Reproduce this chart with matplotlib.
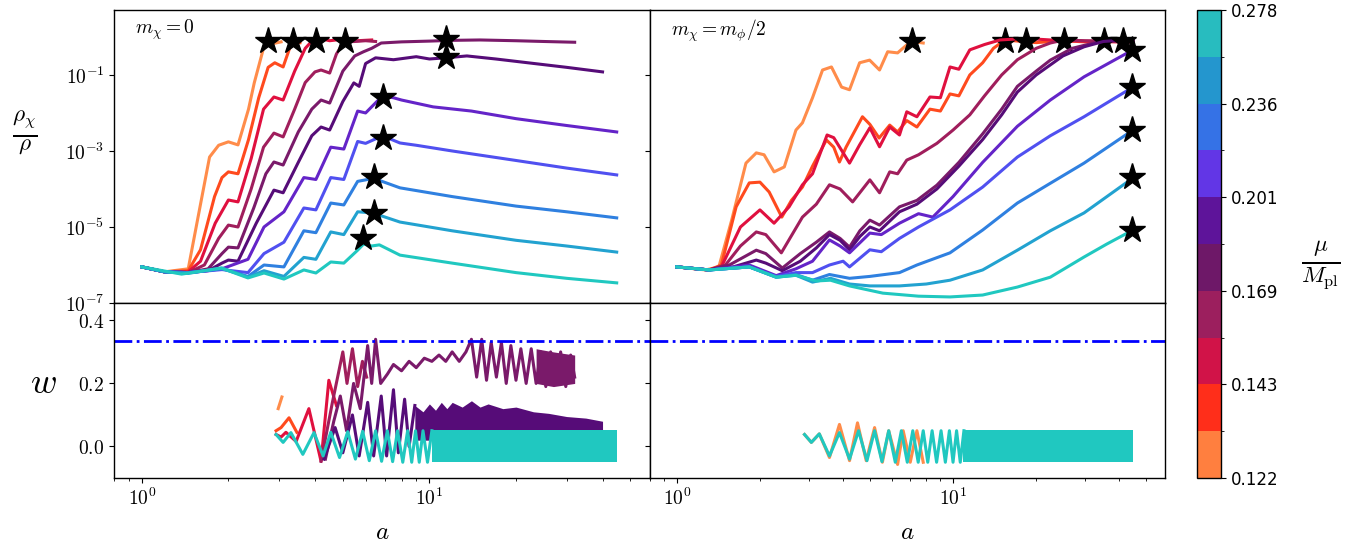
import numpy as np
import matplotlib
matplotlib.use('Agg')
import matplotlib.pyplot as plt
import matplotlib as mpl
from matplotlib.colors import ListedColormap, BoundaryNorm
from matplotlib.ticker import FuncFormatter, NullFormatter, NullLocator, FormatStrFormatter

plt.rcParams['mathtext.fontset'] = 'cm'
plt.rcParams['axes.linewidth'] = 1.0

# eleven runs, orange (small mu) -> teal (large mu)
line_colors = ['#ff8c4a', '#ff4a1e', '#e0103f', '#a01e5c', '#7a1a6a', '#560c78',
               '#6424c8', '#5050f0', '#2f80e0', '#22a2d0', '#20c8c0']
cbar_colors = ['#ff7f3f', '#ff2e1a', '#d11348', '#9c1f5e', '#6e1868',
               '#5e149a', '#6236e6', '#3572e6', '#2496ce', '#28bcbf']
mu_bounds = [0.122, 0.132, 0.143, 0.156, 0.169, 0.184, 0.201, 0.218, 0.236, 0.256, 0.278]
mu_ticks = [0.122, 0.143, 0.169, 0.201, 0.236, 0.278]

# ---- m_chi = 0 : a and log10(rho_chi/rho) ----
left_a = [
    [1.0, 1.2, 1.45, 1.6, 1.72, 1.85, 2.0, 2.16, 2.35, 2.46, 2.64, 2.75, 2.88, 3.05],
    [1.0, 1.2, 1.45, 1.6, 1.79, 1.9, 2.0, 2.16, 2.35, 2.55, 2.75, 2.9, 3.1, 3.3, 3.4, 3.55],
    [1.0, 1.2, 1.45, 1.6, 1.8, 2.0, 2.16, 2.4, 2.65, 2.88, 3.1, 3.4, 3.7, 3.97, 4.1, 4.5, 5.0, 5.6, 6.3],
    [1.0, 1.2, 1.45, 1.65, 1.85, 2.0, 2.16, 2.4, 2.65, 2.88, 3.1, 3.4, 3.7, 4.0, 4.2, 4.5, 4.75, 5.04, 5.5, 6.0, 6.5],
    [1.0, 1.2, 1.45, 1.7, 1.9, 2.0, 2.16, 2.45, 2.7, 2.88, 3.1, 3.5, 3.9, 4.2, 4.5, 5.0, 5.5, 5.9, 6.3, 6.8,
     8.0, 10, 12, 15, 20, 25, 32],
    [1.0, 1.2, 1.45, 1.7, 1.9, 2.0, 2.16, 2.5, 2.88, 3.1, 3.5, 3.9, 4.2, 4.5, 5.0, 5.46, 5.7, 6.0, 6.5, 7.5,
     9, 10, 11.4, 13.5, 17, 22, 30, 40],
    [1.0, 1.2, 1.45, 1.9, 2.34, 2.66, 3.12, 3.66, 4.03, 4.54, 5.04, 5.63, 6.0, 6.87, 7.5, 8.0, 10.3, 14, 20,
     30, 44.8],
    [1.0, 1.2, 1.45, 1.9, 2.34, 2.66, 3.12, 3.66, 4.03, 4.54, 5.04, 5.63, 6.0, 6.87, 7.9, 9, 12, 20, 30, 44.8],
    [1.0, 1.2, 1.45, 1.9, 2.34, 2.66, 3.12, 3.66, 4.03, 4.54, 5.04, 5.63, 6.4, 7.9, 12, 20, 30, 44.8],
    [1.0, 1.2, 1.45, 1.9, 2.34, 2.66, 3.12, 3.66, 4.03, 4.54, 5.04, 5.63, 6.35, 7.9, 12, 20, 30, 44.8],
    [1.0, 1.375, 1.89, 2.34, 2.66, 3.12, 3.66, 4.03, 4.54, 5.04, 5.63, 5.9, 6.3, 6.7, 7.9, 12, 20, 30, 44.8],
]
left_lr = [
    [-6.05, -6.18, -6.1, -4.4, -3.16, -2.85, -2.76, -2.84, -1.9, -1.21, -0.34, -0.13, -0.17, -0.13],
    [-6.05, -6.18, -6.15, -5.6, -4.2, -3.7, -3.55, -3.6, -2.7, -1.6, -0.8, -0.68, -0.79, -0.2, -0.12, -0.15],
    [-6.05, -6.18, -6.18, -5.9, -4.9, -4.29, -4.34, -3.2, -1.9, -1.58, -1.66, -0.9, -0.3, -0.05, -0.03, -0.1,
     -0.06, -0.1, -0.08],
    [-6.05, -6.18, -6.2, -6.0, -5.3, -4.95, -5.0, -4.0, -2.9, -2.53, -2.63, -1.9, -1.2, -0.92, -0.87, -0.95,
     -0.45, -0.13, -0.12, -0.1, -0.12],
    [-6.05, -6.18, -6.2, -6.1, -5.7, -5.53, -5.55, -4.5, -3.6, -3.29, -3.37, -2.5, -1.9, -1.66, -1.74, -0.9,
     -0.5, -0.39, -0.3, -0.16, -0.13, -0.11, -0.09, -0.08, -0.1, -0.12, -0.14],
    [-6.05, -6.18, -6.2, -6.15, -5.95, -5.87, -5.9, -4.9, -4.03, -4.1, -3.3, -2.6, -2.37, -2.45, -1.7, -1.21,
     -1.3, -0.7, -0.55, -0.6, -0.52, -0.58, -0.55, -0.5, -0.58, -0.68, -0.8, -0.92],
    [-6.05, -6.18, -6.2, -6.1, -5.85, -5.0, -4.6, -3.7, -3.75, -2.9, -2.95, -1.95, -2.0, -1.55, -1.6, -1.66,
     -1.84, -1.95, -2.15, -2.33, -2.5],
    [-6.05, -6.18, -6.2, -6.12, -6.2, -5.7, -5.4, -4.5, -4.55, -3.7, -3.75, -2.75, -2.8, -2.6, -2.79, -2.85,
     -3.0, -3.25, -3.45, -3.63],
    [-6.05, -6.18, -6.2, -6.1, -6.3, -6.0, -6.05, -5.1, -5.15, -4.37, -4.42, -3.8, -3.72, -3.97, -4.2, -4.45,
     -4.6, -4.76],
    [-6.05, -6.18, -6.22, -6.08, -6.32, -6.15, -6.3, -5.8, -5.85, -5.13, -5.2, -4.6, -4.63, -4.87, -5.1, -5.35,
     -5.5, -5.66],
    [-6.05, -6.24, -6.08, -6.34, -6.21, -6.37, -6.13, -6.21, -5.92, -5.95, -5.61, -5.45, -5.5, -5.47, -5.74,
     -5.95, -6.2, -6.35, -6.47],
]
left_star_a = [2.75, 3.36, 4.03, 5.1, 11.4, 11.4, 6.87, 6.87, 6.4, 6.4, 5.9]
left_star_rho = [0.8, 0.8, 0.8, 0.8, 0.9, 0.3, 0.026, 2.2e-3, 2.1e-4, 2.3e-5, 5.1e-6]

# ---- m_chi = m_phi/2 ----
right_a = [
    [1.0, 1.27, 1.42, 1.58, 1.78, 1.94, 2.07, 2.25, 2.45, 2.7, 2.85, 3.1, 3.37, 3.63, 3.95, 4.22, 4.59, 4.99,
     5.42, 5.8, 6.3, 6.8, 7.1, 7.8],
    [1.0, 1.31, 1.45, 1.64, 1.83, 2.0, 2.16, 2.4, 2.6, 2.85, 3.1, 3.48, 3.7, 3.88, 4.1, 4.7, 5.0, 5.4, 5.9,
     6.3, 6.8, 7.4, 8.25, 9.0, 9.75, 10.5, 11.5, 12.8, 14.0, 15.4, 20, 25, 30, 44.8],
    [1.0, 1.31, 1.45, 1.7, 2.0, 2.25, 2.55, 2.85, 3.1, 3.5, 3.7, 4.22, 4.59, 5.0, 5.42, 5.9, 6.4, 6.8, 7.4,
     8.25, 9.0, 9.75, 10.5, 11.5, 13, 14.8, 18.3, 25, 35, 44.8],
    [1.0, 1.31, 1.5, 1.7, 1.94, 2.1, 2.39, 2.85, 3.2, 3.57, 3.9, 4.33, 5.0, 5.42, 5.9, 6.3, 6.8, 7.5, 8.74,
     10, 11.5, 13, 15, 17.1, 20, 22.5, 25.2, 30, 44.8],
    [1.0, 1.31, 1.55, 1.94, 2.1, 2.41, 2.8, 3.2, 3.57, 3.9, 4.22, 4.6, 5.0, 5.42, 6.4, 7.4, 8.74, 10.5, 12.8,
     15, 17.1, 20, 22.5, 27, 32.3, 35.2, 44.8],
    [1.0, 1.31, 1.6, 1.94, 2.1, 2.41, 2.8, 3.2, 3.57, 3.9, 4.22, 4.6, 5.0, 5.42, 6.4, 7.4, 8.74, 10.5, 12.8,
     15, 17.1, 20, 25, 29.8, 35, 41.4, 44.8],
    [1.0, 1.31, 1.83, 2.29, 2.7, 3.1, 3.57, 3.9, 4.22, 5.0, 5.5, 6.4, 7.5, 8.45, 10, 12.8, 17.1, 22.5, 29.8,
     44.8],
    [1.0, 1.31, 1.83, 2.29, 2.7, 3.1, 3.57, 4.0, 4.22, 5.0, 5.5, 6.4, 7.5, 9.75, 12.8, 17.1, 22.5, 29.8, 44.8],
    [1.0, 1.31, 1.83, 2.29, 2.7, 3.1, 3.57, 4.22, 5.0, 6.4, 7.4, 9.75, 12.8, 17.1, 22.5, 29.8, 44.8],
    [1.0, 1.31, 1.83, 2.29, 2.7, 3.1, 3.6, 4.22, 5.0, 6.4, 8.0, 9.75, 12.8, 17.1, 22.5, 29.8, 44.8],
    [1.0, 1.31, 1.83, 2.29, 2.7, 3.2, 3.6, 4.22, 5.57, 7.5, 9.75, 12.8, 17.1, 22.5, 29.8, 36, 44.8],
]
right_lr = [
    [-6.05, -6.13, -6.05, -4.82, -3.32, -3.05, -3.1, -3.55, -3.42, -2.45, -2.26, -1.6, -0.87, -0.79, -1.32,
     -1.39, -0.68, -0.61, -0.87, -0.39, -0.42, -0.21, -0.12, -0.16],
    [-6.05, -6.13, -6.0, -4.47, -3.84, -3.82, -4.08, -4.74, -4.3, -3.95, -3.4, -2.71, -2.9, -3.29, -2.9, -2.1,
     -2.3, -2.66, -2.32, -2.5, -2.2, -2.37, -1.9, -1.95, -1.5, -1.55, -1.0, -0.68, -0.3, -0.08, -0.15, -0.1,
     -0.13, -0.12],
    [-6.05, -6.13, -6.05, -5.0, -4.55, -4.9, -4.47, -3.89, -3.6, -2.58, -2.65, -3.32, -2.84, -2.39, -2.89,
     -2.37, -2.58, -1.97, -2.1, -1.58, -1.6, -0.79, -0.85, -0.34, -0.2, -0.08, -0.04, -0.1, -0.12, -0.14],
    [-6.05, -6.13, -6.0, -5.5, -5.13, -5.2, -5.68, -4.74, -4.4, -3.89, -4.0, -4.34, -3.76, -4.1, -3.55, -3.6,
     -3.24, -3.1, -2.8, -2.45, -2.05, -1.55, -1.0, -0.6, -0.3, -0.16, -0.08, -0.1, -0.12],
    [-6.05, -6.13, -6.0, -5.61, -5.7, -6.08, -5.7, -5.4, -5.13, -5.3, -5.53, -5.1, -4.82, -4.95, -4.47, -4.3,
     -3.9, -3.3, -2.55, -1.9, -1.3, -0.9, -0.61, -0.3, -0.16, -0.08, -0.1],
    [-6.05, -6.13, -6.05, -5.87, -5.95, -6.15, -5.9, -5.55, -5.2, -5.35, -5.6, -5.25, -5.0, -5.1, -4.6, -4.4,
     -4.0, -3.4, -2.7, -2.05, -1.45, -1.0, -0.5, -0.26, -0.12, -0.08, -0.1],
    [-6.05, -6.13, -6.0, -6.28, -6.1, -5.9, -5.34, -5.5, -5.68, -5.16, -5.2, -4.9, -4.65, -4.74, -4.2, -3.3,
     -2.35, -1.66, -1.05, -0.34],
    [-6.05, -6.13, -6.05, -6.3, -6.2, -6.2, -6.0, -5.9, -6.05, -5.6, -5.65, -5.3, -5.0, -4.55, -3.95, -3.16,
     -2.6, -2.1, -1.32],
    [-6.05, -6.13, -6.05, -6.32, -6.25, -6.4, -6.25, -6.35, -6.3, -6.2, -6.0, -5.68, -5.08, -4.37, -3.85,
     -3.32, -2.45],
    [-6.05, -6.13, -6.05, -6.32, -6.27, -6.45, -6.35, -6.5, -6.55, -6.55, -6.5, -6.4, -6.13, -5.61, -5.1,
     -4.63, -3.71],
    [-6.05, -6.13, -6.05, -6.32, -6.27, -6.42, -6.4, -6.55, -6.74, -6.82, -6.84, -6.79, -6.58, -6.32, -5.79,
     -5.45, -5.08],
]
right_star_a = [7.1, 15.4, 18.3, 25.2, 35.2, 41.4, 44.6, 44.6, 44.4, 44.4, 44.4]
right_star_rho = [0.8, 0.8, 0.8, 0.8, 0.8, 0.8, 0.46, 0.048, 3.5e-3, 2.1e-4, 8.3e-6]

# ---- equation of state w, m_chi = 0 ----
wl_idx = [0, 1, 2, 3, 4, 5, 10]
wl_a = [
    [2.98, 3.07],
    [2.93, 3.05, 3.25, 3.46],
    [2.93, 3.05, 3.17, 3.44, 3.81, 4.2, 4.47, 4.75],
    [4.2, 4.6, 5.0, 5.17, 5.4, 5.63, 5.85, 6.05],
    [4.35, 4.65, 4.9, 5.15, 5.45, 5.75, 6.1, 6.3, 6.5, 6.77, 7.15, 7.5, 8.0, 8.5, 9.0, 9.6, 10.2, 10.8, 11.4,
     12.0, 12.7, 13.4, 14.0, 14.6, 15.2, 15.8, 16.4, 17.1, 17.8, 18.5, 19.2, 20.0, 20.8, 21.7, 22.6, 23.5,
     24.4, 25.4, 26.4, 27.5, 28.6, 29.8, 31.0, 32.0],
    [4.3, 4.7, 5.0, 5.4, 5.7, 6.1, 6.4, 6.8, 7.1, 7.5, 7.8, 8.2, 8.5, 8.9],
    [2.93, 3.1, 3.3, 3.63, 3.97, 4.27, 4.54, 4.87, 5.2, 5.53, 5.86, 6.18, 6.5, 6.82, 7.14, 7.45, 7.75, 8.08,
     8.4, 8.68, 8.95, 9.22, 9.5, 9.85, 10.2],
]
wl_w = [
    [0.12, 0.157],
    [0.05, 0.06, 0.091, 0.045],
    [0.038, 0.03, 0.045, 0.016, 0.12, -0.047, 0.21, 0.13],
    [-0.047, 0.14, 0.30, 0.2, 0.31, 0.19, 0.27, 0.22],
    [-0.04, 0.08, 0.16, 0.05, 0.2, 0.12, 0.32, 0.2, 0.34, 0.2, 0.23, 0.26, 0.24, 0.27, 0.25, 0.28, 0.27, 0.29,
     0.27, 0.3, 0.27, 0.3, 0.34, 0.22, 0.34, 0.21, 0.33, 0.22, 0.33, 0.2, 0.32, 0.21, 0.31, 0.2, 0.31, 0.2,
     0.3, 0.19, 0.3, 0.2, 0.3, 0.19, 0.29, 0.22],
    [-0.04, 0.06, -0.02, 0.1, -0.03, 0.14, -0.03, 0.16, -0.03, 0.18, -0.02, 0.15, 0.0, 0.13],
    [0.038, 0.013, 0.044, -0.025, 0.044, -0.03, 0.045, -0.035, 0.047, -0.04, 0.048, -0.045, 0.05, -0.047,
     0.05, -0.048, 0.05, -0.05, 0.05, -0.05, 0.05, -0.05, 0.05, -0.05, 0.05],
]
# envelopes where the oscillation is too fast to resolve
magenta_band_a = [23.5, 27, 32]
magenta_band_hi = [0.31, 0.3, 0.29]
magenta_band_lo = [0.2, 0.19, 0.2]
purple_band_a = [8.9, 9.5, 10, 10.5, 11, 11.5, 12, 13, 14, 15, 16, 18, 20, 23, 26, 30, 35, 40]
purple_band_hi = [0.13, 0.11, 0.135, 0.115, 0.14, 0.12, 0.14, 0.125, 0.145, 0.125, 0.135, 0.12, 0.125,
                  0.11, 0.105, 0.095, 0.09, 0.08]
purple_band_lo = [0.02] * len(purple_band_a)
teal_band_l_a = [10.2, 44.8]
teal_band_hi = [0.052, 0.052]
teal_band_lo = [-0.05, -0.05]

# ---- equation of state w, m_chi = m_phi/2 ----
wr_orange_a = [2.9, 3.07, 3.28, 3.57, 3.88, 4.22, 4.51, 4.85, 5.2, 5.55, 5.85, 6.3, 6.6, 7.0, 7.4, 7.8]
wr_orange_w = [0.038, 0.013, 0.04, -0.035, 0.07, -0.045, 0.075, -0.045, 0.06, -0.05, 0.05, -0.057, 0.05,
               -0.05, 0.05, -0.05]
wr_teal_a = [2.9, 3.07, 3.28, 3.57, 3.88, 4.22, 4.55, 4.88, 5.2, 5.53, 5.85, 6.18, 6.5, 6.83, 7.15, 7.48,
             7.8, 8.1, 8.4, 8.72, 9.05, 9.38, 9.7, 10.0, 10.3, 10.62, 10.95]
wr_teal_w = [0.038, 0.013, 0.04, -0.03, 0.044, -0.04, 0.05, -0.045, 0.05, -0.048, 0.05, -0.05, 0.05, -0.05,
             0.05, -0.05, 0.05, -0.05, 0.05, -0.05, 0.05, -0.05, 0.05, -0.05, 0.05, -0.05, 0.05]
teal_band_r_a = [10.9, 45.0]
w_radiation = 1 / 3

fig = plt.figure(figsize=(13.63, 5.45), dpi=100)
ax_tl = fig.add_axes([0.0836, 0.4440, 0.3933, 0.5376])
ax_tr = fig.add_axes([0.4769, 0.4440, 0.3778, 0.5376], sharey=ax_tl)
ax_bl = fig.add_axes([0.0836, 0.1229, 0.3933, 0.3211], sharex=ax_tl)
ax_br = fig.add_axes([0.4769, 0.1229, 0.3778, 0.3211], sharex=ax_tr, sharey=ax_bl)
cax = fig.add_axes([0.8782, 0.1229, 0.0176, 0.8587])

lw = 2.2
for i in range(11):
    ax_tl.plot(left_a[i], 10 ** np.array(left_lr[i]), color=line_colors[i], lw=lw)
    ax_tl.plot(left_star_a[i], left_star_rho[i], marker='*', ms=20, color='k', ls='none')
    ax_tr.plot(right_a[i], 10 ** np.array(right_lr[i]), color=line_colors[i], lw=lw)
    ax_tr.plot(right_star_a[i], right_star_rho[i], marker='*', ms=20, color='k', ls='none')

for k, i in enumerate(wl_idx):
    if i == 4:
        ax_bl.fill_between(magenta_band_a, magenta_band_lo, magenta_band_hi, color=line_colors[4], lw=0)
    if i == 10:
        ax_bl.fill_between(purple_band_a, purple_band_lo, purple_band_hi, color=line_colors[5], lw=0)
        ax_bl.fill_between(teal_band_l_a, teal_band_lo, teal_band_hi, color=line_colors[10], lw=0)
    ax_bl.plot(wl_a[k], wl_w[k], color=line_colors[i], lw=lw)

ax_br.plot(wr_orange_a, wr_orange_w, color=line_colors[0], lw=lw)
ax_br.plot(wr_teal_a, wr_teal_w, color=line_colors[10], lw=lw)
ax_br.fill_between(teal_band_r_a, teal_band_lo, teal_band_hi, color=line_colors[10], lw=0)

for ax in (ax_bl, ax_br):
    ax.axhline(w_radiation, color='blue', ls='-.', lw=2)

ax_tl.set_xscale('log')
ax_tr.set_xscale('log')
ax_tl.set_yscale('log')
ax_tl.set_xlim(0.80, 58.5)
ax_tr.set_xlim(0.80, 58.5)
ax_tl.set_ylim(1e-7, 5.1)
ax_bl.set_ylim(-0.1, 0.455)

ax_tl.set_yticks([1e-7, 1e-5, 1e-3, 1e-1])
ax_tl.yaxis.set_minor_locator(NullLocator())
ax_tl.yaxis.set_major_formatter(FuncFormatter(lambda v, p: r'$10^{%d}$' % round(np.log10(v))))
ax_bl.set_yticks([0.0, 0.2, 0.4])
ax_bl.yaxis.set_major_formatter(FormatStrFormatter(r'$%.1f$'))
for ax in (ax_bl, ax_br):
    ax.xaxis.set_major_formatter(FuncFormatter(lambda v, p: r'$10^{%d}$' % round(np.log10(v))))
    ax.xaxis.set_minor_formatter(NullFormatter())
    ax.set_xlabel(r'$a$', fontsize=18, labelpad=8)
for ax in (ax_tl, ax_tr):
    ax.tick_params(axis='x', which='both', bottom=False, labelbottom=False)
for ax in (ax_tr, ax_br):
    ax.tick_params(axis='y', which='both', labelleft=False)
for ax in (ax_tl, ax_tr, ax_bl, ax_br):
    ax.tick_params(labelsize=14)

ax_tl.text(0.04, 0.975, r'$m_\chi = 0$', transform=ax_tl.transAxes, fontsize=14, va='top')
ax_tr.text(0.04, 0.975, r'$m_\chi = m_\phi/2$', transform=ax_tr.transAxes, fontsize=14, va='top')
fig.text(25 / 1363, 1 - 133 / 545, r'$\frac{\rho_\chi}{\rho}$', fontsize=24, ha='center', va='center')
fig.text(43 / 1363, 1 - 383 / 545, r'$w$', fontsize=26, ha='center', va='center')

cmap = ListedColormap(cbar_colors)
norm = BoundaryNorm(mu_bounds, cmap.N)
sm = mpl.cm.ScalarMappable(norm=norm, cmap=cmap)
cb = fig.colorbar(sm, cax=cax, ticks=mu_ticks)
cb.ax.set_yticklabels(['%.3f' % t for t in mu_ticks])
cb.ax.tick_params(labelsize=12)
fig.text(1321 / 1363, 1 - 266 / 545, r'$\frac{\mu}{M_{\rm pl}}$', fontsize=24, ha='center', va='center')

fig.savefig('out.png', dpi=100)
